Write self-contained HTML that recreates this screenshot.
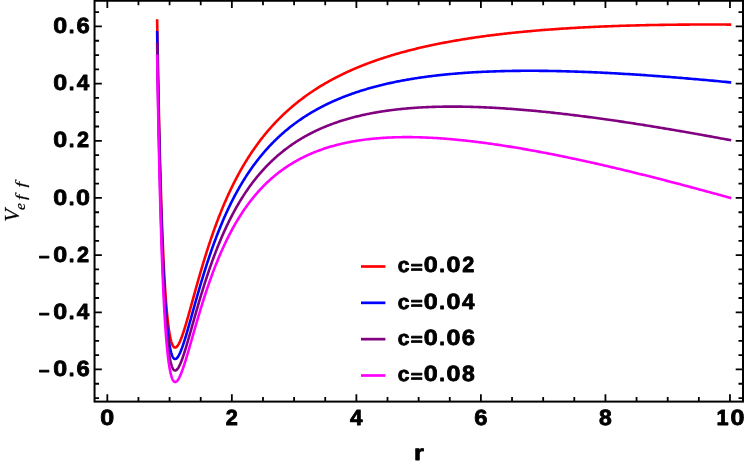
<!DOCTYPE html><html><head><meta charset="utf-8"><title>Veff plot</title><style>html,body{margin:0;padding:0;background:#fff;}body{width:747px;height:468px;overflow:hidden;font-family:"Liberation Sans",sans-serif;}</style></head><body><svg width="747" height="468" viewBox="0 0 747 468" style="display:block"><rect x="0" y="0" width="747" height="468" fill="#fff"/><defs><mask id="tm" maskUnits="userSpaceOnUse" x="0" y="0" width="747" height="468"><rect x="0" y="0" width="747" height="468" fill="#fff"/></mask></defs><path d="M157.13,19.35 L157.31,30.20 L157.49,40.78 L157.67,51.08 L157.86,61.12 L158.04,70.91 L158.22,80.43 L158.41,89.71 L158.59,98.75 L158.78,107.55 L158.96,116.11 L159.15,124.44 L159.34,132.55 L159.52,140.44 L159.71,148.11 L159.90,155.57 L160.09,162.83 L160.28,169.88 L160.47,176.73 L160.67,183.39 L160.86,189.86 L161.05,196.15 L161.25,202.25 L161.44,208.17 L161.64,213.92 L161.83,219.50 L162.03,224.91 L162.23,230.16 L162.43,235.24 L162.63,240.17 L162.83,244.95 L163.03,249.58 L163.23,254.06 L163.43,258.39 L163.63,262.59 L163.84,266.65 L164.04,270.57 L164.25,274.36 L164.45,278.03 L164.66,281.56 L164.86,284.98 L165.07,288.28 L165.28,291.45 L165.49,294.52 L165.70,297.47 L165.91,300.31 L166.12,303.04 L166.34,305.67 L166.55,308.19 L166.76,310.62 L166.98,312.95 L167.19,315.18 L167.41,317.32 L167.63,319.37 L167.85,321.32 L168.07,323.19 L168.28,324.98 L168.51,326.68 L168.73,328.31 L168.95,329.85 L169.17,331.31 L169.39,332.70 L169.62,334.02 L169.84,335.26 L170.07,336.44 L170.30,337.54 L170.52,338.58 L170.75,339.55 L170.98,340.46 L171.21,341.31 L171.44,342.09 L171.68,342.82 L171.91,343.49 L172.14,344.11 L172.38,344.66 L172.61,345.17 L172.85,345.62 L173.08,346.02 L173.32,346.38 L173.56,346.68 L173.80,346.94 L174.04,347.15 L174.28,347.31 L174.52,347.44 L174.77,347.52 L175.01,347.56 L175.25,347.56 L175.50,347.52 L175.75,347.44 L175.99,347.32 L176.24,347.17 L176.49,346.99 L176.74,346.77 L176.99,346.51 L177.24,346.23 L177.50,345.91 L177.75,345.56 L178.01,345.18 L178.26,344.78 L178.52,344.34 L178.77,343.88 L179.03,343.39 L179.29,342.88 L179.55,342.34 L179.81,341.77 L180.08,341.19 L180.34,340.58 L180.60,339.94 L180.87,339.29 L181.13,338.62 L181.40,337.92 L181.67,337.21 L181.94,336.47 L182.21,335.72 L182.48,334.95 L182.75,334.17 L183.02,333.36 L183.29,332.54 L183.57,331.71 L183.84,330.86 L184.12,329.99 L184.40,329.11 L184.68,328.22 L184.96,327.31 L185.24,326.40 L185.52,325.47 L185.80,324.52 L186.09,323.57 L186.37,322.60 L186.66,321.63 L186.94,320.64 L187.23,319.65 L187.52,318.64 L187.81,317.63 L188.10,316.60 L188.39,315.57 L188.69,314.53 L188.98,313.49 L189.27,312.43 L189.57,311.37 L189.87,310.31 L190.17,309.23 L190.47,308.15 L190.77,307.07 L191.07,305.98 L191.37,304.88 L191.68,303.78 L191.98,302.67 L192.29,301.56 L192.59,300.45 L192.90,299.33 L193.21,298.21 L193.52,297.08 L193.83,295.95 L194.15,294.82 L194.46,293.68 L194.77,292.55 L195.09,291.41 L195.41,290.26 L195.73,289.12 L196.05,287.97 L196.37,286.83 L196.69,285.68 L197.01,284.53 L197.34,283.38 L197.66,282.22 L197.99,281.07 L198.32,279.92 L198.64,278.76 L198.97,277.61 L199.31,276.45 L199.64,275.30 L199.97,274.14 L200.31,272.99 L200.64,271.83 L200.98,270.68 L201.32,269.52 L201.66,268.37 L202.00,267.22 L202.34,266.07 L202.69,264.92 L203.03,263.77 L203.38,262.62 L203.72,261.48 L204.07,260.33 L204.42,259.19 L204.77,258.05 L205.12,256.91 L205.48,255.77 L205.83,254.63 L206.19,253.50 L206.55,252.36 L206.90,251.23 L207.26,250.11 L207.63,248.98 L207.99,247.86 L208.35,246.73 L208.72,245.61 L209.08,244.50 L209.45,243.38 L209.82,242.27 L210.19,241.16 L210.56,240.06 L210.94,238.95 L211.31,237.85 L211.69,236.76 L212.06,235.66 L212.44,234.57 L212.82,233.48 L213.20,232.40 L213.59,231.31 L213.97,230.23 L214.36,229.16 L214.74,228.08 L215.13,227.01 L215.52,225.95 L215.91,224.88 L216.31,223.82 L216.70,222.77 L217.09,221.71 L217.49,220.66 L217.89,219.62 L218.29,218.57 L218.69,217.53 L219.09,216.50 L219.50,215.46 L219.90,214.43 L220.31,213.41 L220.72,212.39 L221.13,211.37 L221.54,210.35 L221.95,209.34 L222.37,208.33 L222.78,207.33 L223.20,206.33 L223.62,205.33 L224.04,204.34 L224.46,203.35 L224.88,202.36 L225.31,201.38 L225.74,200.40 L226.16,199.43 L226.59,198.46 L227.02,197.49 L227.46,196.53 L227.89,195.57 L228.33,194.61 L228.76,193.66 L229.20,192.71 L229.64,191.76 L230.09,190.82 L230.53,189.88 L230.98,188.95 L231.42,188.02 L231.87,187.09 L232.32,186.17 L232.77,185.25 L233.23,184.34 L233.68,183.43 L234.14,182.52 L234.60,181.62 L235.06,180.72 L235.52,179.82 L235.98,178.93 L236.45,178.04 L236.91,177.15 L237.38,176.27 L237.85,175.39 L238.32,174.52 L238.80,173.65 L239.27,172.78 L239.75,171.92 L240.23,171.06 L240.71,170.20 L241.19,169.35 L241.68,168.50 L242.16,167.66 L242.65,166.82 L243.14,165.98 L243.63,165.14 L244.12,164.31 L244.62,163.49 L245.11,162.66 L245.61,161.84 L246.11,161.03 L246.61,160.22 L247.12,159.41 L247.62,158.60 L248.13,157.80 L248.64,157.00 L249.15,156.21 L249.66,155.42 L250.17,154.63 L250.69,153.84 L251.21,153.06 L251.73,152.28 L252.25,151.51 L252.78,150.74 L253.30,149.97 L253.83,149.21 L254.36,148.45 L254.89,147.69 L255.42,146.94 L255.96,146.19 L256.50,145.44 L257.04,144.70 L257.58,143.96 L258.12,143.22 L258.66,142.49 L259.21,141.76 L259.76,141.03 L260.31,140.31 L260.86,139.59 L261.42,138.87 L261.98,138.16 L262.54,137.44 L263.10,136.74 L263.66,136.03 L264.23,135.33 L264.79,134.63 L265.36,133.94 L265.93,133.25 L266.51,132.56 L267.08,131.87 L267.66,131.19 L268.24,130.51 L268.82,129.84 L269.40,129.16 L269.99,128.49 L270.58,127.83 L271.17,127.16 L271.76,126.50 L272.35,125.85 L272.95,125.19 L273.55,124.54 L274.15,123.89 L274.75,123.25 L275.36,122.60 L275.97,121.96 L276.58,121.33 L277.19,120.69 L277.80,120.06 L278.42,119.43 L279.04,118.81 L279.66,118.19 L280.28,117.57 L280.91,116.95 L281.53,116.34 L282.16,115.73 L282.79,115.12 L283.43,114.51 L284.07,113.91 L284.70,113.31 L285.35,112.71 L285.99,112.12 L286.64,111.53 L287.28,110.94 L287.93,110.35 L288.59,109.77 L289.24,109.19 L289.90,108.61 L290.56,108.04 L291.22,107.47 L291.89,106.90 L292.55,106.33 L293.22,105.77 L293.90,105.20 L294.57,104.65 L295.25,104.09 L295.93,103.54 L296.61,102.98 L297.29,102.44 L297.98,101.89 L298.67,101.35 L299.36,100.81 L300.05,100.27 L300.75,99.73 L301.45,99.20 L302.15,98.67 L302.86,98.14 L303.56,97.61 L304.27,97.09 L304.98,96.57 L305.70,96.05 L306.42,95.54 L307.13,95.02 L307.86,94.51 L308.58,94.00 L309.31,93.50 L310.04,92.99 L310.77,92.49 L311.51,91.99 L312.25,91.50 L312.99,91.00 L313.73,90.51 L314.48,90.02 L315.22,89.54 L315.98,89.05 L316.73,88.57 L317.49,88.09 L318.25,87.61 L319.01,87.14 L319.77,86.66 L320.54,86.19 L321.31,85.72 L322.09,85.26 L322.86,84.79 L323.64,84.33 L324.42,83.87 L325.21,83.42 L326.00,82.96 L326.79,82.51 L327.58,82.06 L328.38,81.61 L329.18,81.16 L329.98,80.72 L330.78,80.28 L331.59,79.84 L332.40,79.40 L333.21,78.97 L334.03,78.53 L334.85,78.10 L335.67,77.67 L336.50,77.25 L337.33,76.82 L338.16,76.40 L338.99,75.98 L339.83,75.56 L340.67,75.15 L341.51,74.73 L342.36,74.32 L343.21,73.91 L344.06,73.50 L344.92,73.10 L345.78,72.69 L346.64,72.29 L347.50,71.89 L348.37,71.49 L349.24,71.10 L350.12,70.70 L351.00,70.31 L351.88,69.92 L352.76,69.54 L353.65,69.15 L354.54,68.77 L355.43,68.39 L356.33,68.01 L357.23,67.63 L358.13,67.25 L359.04,66.88 L359.95,66.51 L360.86,66.14 L361.78,65.77 L362.70,65.40 L363.62,65.04 L364.55,64.68 L365.48,64.32 L366.41,63.96 L367.35,63.60 L368.29,63.25 L369.23,62.90 L370.18,62.54 L371.13,62.20 L372.08,61.85 L373.04,61.50 L374.00,61.16 L374.96,60.82 L375.93,60.48 L376.90,60.14 L377.88,59.81 L378.85,59.47 L379.84,59.14 L380.82,58.81 L381.81,58.48 L382.80,58.15 L383.80,57.83 L384.80,57.51 L385.80,57.18 L386.81,56.87 L387.82,56.55 L388.83,56.23 L389.85,55.92 L390.87,55.61 L391.89,55.29 L392.92,54.99 L393.95,54.68 L394.99,54.37 L396.03,54.07 L397.07,53.77 L398.12,53.47 L399.17,53.17 L400.23,52.87 L401.29,52.58 L402.35,52.29 L403.42,51.99 L404.49,51.70 L405.56,51.42 L406.64,51.13 L407.72,50.85 L408.81,50.56 L409.90,50.28 L410.99,50.00 L412.09,49.72 L413.19,49.45 L414.29,49.17 L415.40,48.90 L416.52,48.63 L417.64,48.36 L418.76,48.09 L419.88,47.83 L421.01,47.56 L422.15,47.30 L423.28,47.04 L424.43,46.78 L425.57,46.52 L426.72,46.26 L427.88,46.01 L429.04,45.76 L430.20,45.51 L431.37,45.26 L432.54,45.01 L433.71,44.76 L434.89,44.52 L436.08,44.27 L437.27,44.03 L438.46,43.79 L439.66,43.55 L440.86,43.32 L442.06,43.08 L443.27,42.85 L444.49,42.62 L445.71,42.39 L446.93,42.16 L448.16,41.93 L449.39,41.70 L450.62,41.48 L451.87,41.26 L453.11,41.04 L454.36,40.82 L455.62,40.60 L456.87,40.38 L458.14,40.17 L459.41,39.96 L460.68,39.74 L461.96,39.53 L463.24,39.33 L464.52,39.12 L465.82,38.91 L467.11,38.71 L468.41,38.51 L469.72,38.31 L471.03,38.11 L472.34,37.91 L473.66,37.71 L474.99,37.52 L476.31,37.33 L477.65,37.13 L478.99,36.94 L480.33,36.75 L481.68,36.57 L483.03,36.38 L484.39,36.20 L485.75,36.02 L487.12,35.83 L488.49,35.65 L489.87,35.48 L491.25,35.30 L492.64,35.13 L494.04,34.95 L495.43,34.78 L496.84,34.61 L498.24,34.44 L499.66,34.27 L501.08,34.11 L502.50,33.94 L503.93,33.78 L505.36,33.62 L506.80,33.46 L508.24,33.30 L509.69,33.14 L511.15,32.98 L512.61,32.83 L514.07,32.68 L515.54,32.53 L517.02,32.38 L518.50,32.23 L519.98,32.08 L521.48,31.93 L522.97,31.79 L524.48,31.65 L525.98,31.51 L527.50,31.37 L529.02,31.23 L530.54,31.09 L532.07,30.96 L533.61,30.82 L535.15,30.69 L536.69,30.56 L538.24,30.43 L539.80,30.30 L541.37,30.17 L542.93,30.05 L544.51,29.92 L546.09,29.80 L547.68,29.68 L549.27,29.56 L550.86,29.44 L552.47,29.33 L554.08,29.21 L555.69,29.10 L557.31,28.98 L558.94,28.87 L560.57,28.76 L562.21,28.65 L563.85,28.55 L565.50,28.44 L567.16,28.34 L568.82,28.24 L570.49,28.13 L572.17,28.03 L573.85,27.94 L575.53,27.84 L577.22,27.74 L578.92,27.65 L580.63,27.56 L582.34,27.47 L584.06,27.38 L585.78,27.29 L587.51,27.20 L589.24,27.12 L590.99,27.03 L592.73,26.95 L594.49,26.87 L596.25,26.79 L598.02,26.71 L599.79,26.63 L601.57,26.55 L603.36,26.48 L605.15,26.41 L606.95,26.34 L608.76,26.27 L610.57,26.20 L612.39,26.13 L614.21,26.06 L616.05,26.00 L617.89,25.94 L619.73,25.87 L621.58,25.81 L623.44,25.75 L625.31,25.70 L627.18,25.64 L629.06,25.59 L630.94,25.53 L632.84,25.48 L634.74,25.43 L636.64,25.38 L638.56,25.33 L640.48,25.28 L642.40,25.24 L644.34,25.20 L646.28,25.15 L648.23,25.11 L650.18,25.07 L652.15,25.03 L654.11,25.00 L656.09,24.96 L658.08,24.93 L660.07,24.90 L662.06,24.86 L664.07,24.84 L666.08,24.81 L668.10,24.78 L670.13,24.75 L672.16,24.73 L674.20,24.71 L676.25,24.69 L678.31,24.66 L680.37,24.65 L682.45,24.63 L684.52,24.61 L686.61,24.60 L688.70,24.59 L690.81,24.57 L692.92,24.56 L695.03,24.55 L697.16,24.55 L699.29,24.54 L701.43,24.54 L703.58,24.53 L705.73,24.53 L707.89,24.53 L710.07,24.53 L712.24,24.53 L714.43,24.54 L716.63,24.54 L718.83,24.55 L721.04,24.55 L723.26,24.56 L725.48,24.57 L727.72,24.59 L729.96,24.60 L731.26,24.61" fill="none" stroke="#ff0000" stroke-width="2.6" stroke-linejoin="round" stroke-linecap="butt"/><path d="M157.13,31.07 L157.31,41.91 L157.49,52.48 L157.67,62.77 L157.86,72.81 L158.04,82.58 L158.22,92.10 L158.41,101.37 L158.59,110.40 L158.78,119.19 L158.96,127.74 L159.15,136.07 L159.34,144.17 L159.52,152.05 L159.71,159.71 L159.90,167.17 L160.09,174.42 L160.28,181.46 L160.47,188.31 L160.67,194.96 L160.86,201.43 L161.05,207.70 L161.25,213.80 L161.44,219.72 L161.64,225.46 L161.83,231.03 L162.03,236.44 L162.23,241.68 L162.43,246.76 L162.63,251.69 L162.83,256.46 L163.03,261.08 L163.23,265.56 L163.43,269.89 L163.63,274.08 L163.84,278.13 L164.04,282.05 L164.25,285.84 L164.45,289.50 L164.66,293.04 L164.86,296.45 L165.07,299.74 L165.28,302.92 L165.49,305.97 L165.70,308.92 L165.91,311.76 L166.12,314.49 L166.34,317.12 L166.55,319.64 L166.76,322.06 L166.98,324.39 L167.19,326.62 L167.41,328.76 L167.63,330.80 L167.85,332.76 L168.07,334.63 L168.28,336.42 L168.51,338.12 L168.73,339.74 L168.95,341.28 L169.17,342.75 L169.39,344.14 L169.62,345.45 L169.84,346.70 L170.07,347.87 L170.30,348.98 L170.52,350.01 L170.75,350.99 L170.98,351.90 L171.21,352.75 L171.44,353.53 L171.68,354.26 L171.91,354.93 L172.14,355.55 L172.38,356.11 L172.61,356.61 L172.85,357.07 L173.08,357.47 L173.32,357.83 L173.56,358.14 L173.80,358.39 L174.04,358.61 L174.28,358.78 L174.52,358.90 L174.77,358.99 L175.01,359.03 L175.25,359.03 L175.50,359.00 L175.75,358.92 L175.99,358.81 L176.24,358.67 L176.49,358.48 L176.74,358.27 L176.99,358.02 L177.24,357.74 L177.50,357.42 L177.75,357.08 L178.01,356.71 L178.26,356.31 L178.52,355.88 L178.77,355.42 L179.03,354.94 L179.29,354.43 L179.55,353.90 L179.81,353.34 L180.08,352.76 L180.34,352.16 L180.60,351.53 L180.87,350.88 L181.13,350.22 L181.40,349.53 L181.67,348.82 L181.94,348.10 L182.21,347.35 L182.48,346.59 L182.75,345.81 L183.02,345.01 L183.29,344.20 L183.57,343.38 L183.84,342.53 L184.12,341.68 L184.40,340.81 L184.68,339.92 L184.96,339.03 L185.24,338.12 L185.52,337.20 L185.80,336.26 L186.09,335.32 L186.37,334.36 L186.66,333.40 L186.94,332.42 L187.23,331.44 L187.52,330.44 L187.81,329.44 L188.10,328.43 L188.39,327.41 L188.69,326.38 L188.98,325.34 L189.27,324.30 L189.57,323.25 L189.87,322.20 L190.17,321.13 L190.47,320.07 L190.77,318.99 L191.07,317.91 L191.37,316.83 L191.68,315.74 L191.98,314.65 L192.29,313.55 L192.59,312.45 L192.90,311.34 L193.21,310.24 L193.52,309.12 L193.83,308.01 L194.15,306.89 L194.46,305.77 L194.77,304.65 L195.09,303.52 L195.41,302.39 L195.73,301.26 L196.05,300.13 L196.37,299.00 L196.69,297.86 L197.01,296.73 L197.34,295.59 L197.66,294.46 L197.99,293.32 L198.32,292.18 L198.64,291.04 L198.97,289.90 L199.31,288.77 L199.64,287.63 L199.97,286.49 L200.31,285.35 L200.64,284.21 L200.98,283.08 L201.32,281.94 L201.66,280.81 L202.00,279.67 L202.34,278.54 L202.69,277.41 L203.03,276.28 L203.38,275.15 L203.72,274.02 L204.07,272.89 L204.42,271.77 L204.77,270.65 L205.12,269.52 L205.48,268.41 L205.83,267.29 L206.19,266.17 L206.55,265.06 L206.90,263.95 L207.26,262.84 L207.63,261.74 L207.99,260.63 L208.35,259.53 L208.72,258.43 L209.08,257.34 L209.45,256.25 L209.82,255.16 L210.19,254.07 L210.56,252.98 L210.94,251.90 L211.31,250.82 L211.69,249.75 L212.06,248.68 L212.44,247.61 L212.82,246.54 L213.20,245.48 L213.59,244.42 L213.97,243.36 L214.36,242.31 L214.74,241.26 L215.13,240.21 L215.52,239.17 L215.91,238.13 L216.31,237.10 L216.70,236.06 L217.09,235.03 L217.49,234.01 L217.89,232.99 L218.29,231.97 L218.69,230.95 L219.09,229.94 L219.50,228.94 L219.90,227.93 L220.31,226.93 L220.72,225.94 L221.13,224.94 L221.54,223.96 L221.95,222.97 L222.37,221.99 L222.78,221.01 L223.20,220.04 L223.62,219.07 L224.04,218.10 L224.46,217.14 L224.88,216.18 L225.31,215.23 L225.74,214.28 L226.16,213.33 L226.59,212.39 L227.02,211.45 L227.46,210.52 L227.89,209.59 L228.33,208.66 L228.76,207.74 L229.20,206.82 L229.64,205.90 L230.09,204.99 L230.53,204.09 L230.98,203.18 L231.42,202.28 L231.87,201.39 L232.32,200.50 L232.77,199.61 L233.23,198.73 L233.68,197.85 L234.14,196.97 L234.60,196.10 L235.06,195.23 L235.52,194.37 L235.98,193.51 L236.45,192.65 L236.91,191.80 L237.38,190.95 L237.85,190.10 L238.32,189.26 L238.80,188.43 L239.27,187.59 L239.75,186.76 L240.23,185.94 L240.71,185.12 L241.19,184.30 L241.68,183.49 L242.16,182.68 L242.65,181.87 L243.14,181.07 L243.63,180.27 L244.12,179.48 L244.62,178.69 L245.11,177.90 L245.61,177.12 L246.11,176.34 L246.61,175.56 L247.12,174.79 L247.62,174.02 L248.13,173.26 L248.64,172.49 L249.15,171.74 L249.66,170.98 L250.17,170.23 L250.69,169.49 L251.21,168.75 L251.73,168.01 L252.25,167.27 L252.78,166.54 L253.30,165.81 L253.83,165.09 L254.36,164.37 L254.89,163.65 L255.42,162.94 L255.96,162.23 L256.50,161.52 L257.04,160.82 L257.58,160.12 L258.12,159.43 L258.66,158.73 L259.21,158.05 L259.76,157.36 L260.31,156.68 L260.86,156.00 L261.42,155.33 L261.98,154.66 L262.54,153.99 L263.10,153.32 L263.66,152.66 L264.23,152.01 L264.79,151.35 L265.36,150.70 L265.93,150.05 L266.51,149.41 L267.08,148.77 L267.66,148.13 L268.24,147.50 L268.82,146.87 L269.40,146.24 L269.99,145.62 L270.58,145.00 L271.17,144.38 L271.76,143.77 L272.35,143.15 L272.95,142.55 L273.55,141.94 L274.15,141.34 L274.75,140.74 L275.36,140.15 L275.97,139.56 L276.58,138.97 L277.19,138.38 L277.80,137.80 L278.42,137.22 L279.04,136.65 L279.66,136.07 L280.28,135.50 L280.91,134.94 L281.53,134.37 L282.16,133.81 L282.79,133.26 L283.43,132.70 L284.07,132.15 L284.70,131.60 L285.35,131.06 L285.99,130.52 L286.64,129.98 L287.28,129.44 L287.93,128.91 L288.59,128.38 L289.24,127.85 L289.90,127.33 L290.56,126.81 L291.22,126.29 L291.89,125.77 L292.55,125.26 L293.22,124.75 L293.90,124.24 L294.57,123.74 L295.25,123.24 L295.93,122.74 L296.61,122.24 L297.29,121.75 L297.98,121.26 L298.67,120.78 L299.36,120.29 L300.05,119.81 L300.75,119.33 L301.45,118.86 L302.15,118.38 L302.86,117.91 L303.56,117.45 L304.27,116.98 L304.98,116.52 L305.70,116.06 L306.42,115.60 L307.13,115.15 L307.86,114.70 L308.58,114.25 L309.31,113.81 L310.04,113.36 L310.77,112.92 L311.51,112.48 L312.25,112.05 L312.99,111.62 L313.73,111.19 L314.48,110.76 L315.22,110.34 L315.98,109.91 L316.73,109.50 L317.49,109.08 L318.25,108.67 L319.01,108.25 L319.77,107.85 L320.54,107.44 L321.31,107.04 L322.09,106.63 L322.86,106.24 L323.64,105.84 L324.42,105.45 L325.21,105.05 L326.00,104.67 L326.79,104.28 L327.58,103.90 L328.38,103.52 L329.18,103.14 L329.98,102.76 L330.78,102.39 L331.59,102.02 L332.40,101.65 L333.21,101.28 L334.03,100.92 L334.85,100.56 L335.67,100.20 L336.50,99.84 L337.33,99.49 L338.16,99.14 L338.99,98.79 L339.83,98.44 L340.67,98.10 L341.51,97.75 L342.36,97.41 L343.21,97.08 L344.06,96.74 L344.92,96.41 L345.78,96.08 L346.64,95.75 L347.50,95.42 L348.37,95.10 L349.24,94.78 L350.12,94.46 L351.00,94.15 L351.88,93.83 L352.76,93.52 L353.65,93.21 L354.54,92.90 L355.43,92.60 L356.33,92.30 L357.23,92.00 L358.13,91.70 L359.04,91.40 L359.95,91.11 L360.86,90.82 L361.78,90.53 L362.70,90.24 L363.62,89.96 L364.55,89.68 L365.48,89.40 L366.41,89.12 L367.35,88.84 L368.29,88.57 L369.23,88.30 L370.18,88.03 L371.13,87.77 L372.08,87.50 L373.04,87.24 L374.00,86.98 L374.96,86.72 L375.93,86.47 L376.90,86.21 L377.88,85.96 L378.85,85.71 L379.84,85.47 L380.82,85.22 L381.81,84.98 L382.80,84.74 L383.80,84.50 L384.80,84.26 L385.80,84.03 L386.81,83.80 L387.82,83.57 L388.83,83.34 L389.85,83.12 L390.87,82.89 L391.89,82.67 L392.92,82.45 L393.95,82.24 L394.99,82.02 L396.03,81.81 L397.07,81.60 L398.12,81.39 L399.17,81.18 L400.23,80.98 L401.29,80.78 L402.35,80.58 L403.42,80.38 L404.49,80.19 L405.56,79.99 L406.64,79.80 L407.72,79.61 L408.81,79.42 L409.90,79.24 L410.99,79.05 L412.09,78.87 L413.19,78.69 L414.29,78.52 L415.40,78.34 L416.52,78.17 L417.64,78.00 L418.76,77.83 L419.88,77.66 L421.01,77.50 L422.15,77.33 L423.28,77.17 L424.43,77.02 L425.57,76.86 L426.72,76.70 L427.88,76.55 L429.04,76.40 L430.20,76.25 L431.37,76.11 L432.54,75.96 L433.71,75.82 L434.89,75.68 L436.08,75.54 L437.27,75.40 L438.46,75.27 L439.66,75.14 L440.86,75.01 L442.06,74.88 L443.27,74.75 L444.49,74.63 L445.71,74.51 L446.93,74.39 L448.16,74.27 L449.39,74.15 L450.62,74.04 L451.87,73.92 L453.11,73.81 L454.36,73.71 L455.62,73.60 L456.87,73.50 L458.14,73.39 L459.41,73.29 L460.68,73.19 L461.96,73.10 L463.24,73.00 L464.52,72.91 L465.82,72.82 L467.11,72.73 L468.41,72.65 L469.72,72.56 L471.03,72.48 L472.34,72.40 L473.66,72.32 L474.99,72.24 L476.31,72.17 L477.65,72.10 L478.99,72.02 L480.33,71.96 L481.68,71.89 L483.03,71.82 L484.39,71.76 L485.75,71.70 L487.12,71.64 L488.49,71.58 L489.87,71.53 L491.25,71.48 L492.64,71.43 L494.04,71.38 L495.43,71.33 L496.84,71.28 L498.24,71.24 L499.66,71.20 L501.08,71.16 L502.50,71.12 L503.93,71.09 L505.36,71.06 L506.80,71.02 L508.24,70.99 L509.69,70.97 L511.15,70.94 L512.61,70.92 L514.07,70.90 L515.54,70.88 L517.02,70.86 L518.50,70.84 L519.98,70.83 L521.48,70.82 L522.97,70.81 L524.48,70.80 L525.98,70.79 L527.50,70.79 L529.02,70.79 L530.54,70.79 L532.07,70.79 L533.61,70.79 L535.15,70.80 L536.69,70.81 L538.24,70.82 L539.80,70.83 L541.37,70.84 L542.93,70.86 L544.51,70.88 L546.09,70.90 L547.68,70.92 L549.27,70.94 L550.86,70.97 L552.47,71.00 L554.08,71.02 L555.69,71.06 L557.31,71.09 L558.94,71.12 L560.57,71.16 L562.21,71.20 L563.85,71.24 L565.50,71.29 L567.16,71.33 L568.82,71.38 L570.49,71.43 L572.17,71.48 L573.85,71.53 L575.53,71.59 L577.22,71.64 L578.92,71.70 L580.63,71.76 L582.34,71.83 L584.06,71.89 L585.78,71.96 L587.51,72.03 L589.24,72.10 L590.99,72.17 L592.73,72.25 L594.49,72.33 L596.25,72.40 L598.02,72.49 L599.79,72.57 L601.57,72.65 L603.36,72.74 L605.15,72.83 L606.95,72.92 L608.76,73.01 L610.57,73.11 L612.39,73.21 L614.21,73.30 L616.05,73.41 L617.89,73.51 L619.73,73.61 L621.58,73.72 L623.44,73.83 L625.31,73.94 L627.18,74.05 L629.06,74.17 L630.94,74.29 L632.84,74.41 L634.74,74.53 L636.64,74.65 L638.56,74.78 L640.48,74.90 L642.40,75.03 L644.34,75.16 L646.28,75.30 L648.23,75.43 L650.18,75.57 L652.15,75.71 L654.11,75.85 L656.09,76.00 L658.08,76.14 L660.07,76.29 L662.06,76.44 L664.07,76.59 L666.08,76.74 L668.10,76.90 L670.13,77.06 L672.16,77.22 L674.20,77.38 L676.25,77.55 L678.31,77.71 L680.37,77.88 L682.45,78.05 L684.52,78.22 L686.61,78.40 L688.70,78.58 L690.81,78.75 L692.92,78.94 L695.03,79.12 L697.16,79.30 L699.29,79.49 L701.43,79.68 L703.58,79.87 L705.73,80.07 L707.89,80.26 L710.07,80.46 L712.24,80.66 L714.43,80.86 L716.63,81.07 L718.83,81.27 L721.04,81.48 L723.26,81.69 L725.48,81.90 L727.72,82.12 L729.96,82.34 L731.25,82.46" fill="none" stroke="#0000ff" stroke-width="2.6" stroke-linejoin="round" stroke-linecap="butt"/><path d="M157.13,42.79 L157.31,53.62 L157.49,64.18 L157.67,74.47 L157.86,84.49 L158.04,94.26 L158.22,103.77 L158.41,113.03 L158.59,122.05 L158.78,130.83 L158.96,139.38 L159.15,147.69 L159.34,155.79 L159.52,163.66 L159.71,171.32 L159.90,178.77 L160.09,186.01 L160.28,193.05 L160.47,199.89 L160.67,206.53 L160.86,212.99 L161.05,219.26 L161.25,225.35 L161.44,231.26 L161.64,237.00 L161.83,242.57 L162.03,247.97 L162.23,253.20 L162.43,258.28 L162.63,263.20 L162.83,267.97 L163.03,272.58 L163.23,277.05 L163.43,281.38 L163.63,285.57 L163.84,289.62 L164.04,293.54 L164.25,297.32 L164.45,300.98 L164.66,304.51 L164.86,307.92 L165.07,311.21 L165.28,314.38 L165.49,317.43 L165.70,320.38 L165.91,323.21 L166.12,325.94 L166.34,328.57 L166.55,331.09 L166.76,333.51 L166.98,335.83 L167.19,338.06 L167.41,340.20 L167.63,342.24 L167.85,344.20 L168.07,346.07 L168.28,347.85 L168.51,349.55 L168.73,351.17 L168.95,352.72 L169.17,354.18 L169.39,355.57 L169.62,356.88 L169.84,358.13 L170.07,359.30 L170.30,360.41 L170.52,361.45 L170.75,362.42 L170.98,363.33 L171.21,364.18 L171.44,364.97 L171.68,365.70 L171.91,366.37 L172.14,366.99 L172.38,367.55 L172.61,368.06 L172.85,368.52 L173.08,368.92 L173.32,369.28 L173.56,369.59 L173.80,369.85 L174.04,370.07 L174.28,370.24 L174.52,370.37 L174.77,370.46 L175.01,370.50 L175.25,370.51 L175.50,370.48 L175.75,370.41 L175.99,370.30 L176.24,370.16 L176.49,369.98 L176.74,369.77 L176.99,369.52 L177.24,369.25 L177.50,368.94 L177.75,368.60 L178.01,368.23 L178.26,367.84 L178.52,367.41 L178.77,366.96 L179.03,366.49 L179.29,365.98 L179.55,365.46 L179.81,364.91 L180.08,364.33 L180.34,363.73 L180.60,363.12 L180.87,362.48 L181.13,361.81 L181.40,361.13 L181.67,360.43 L181.94,359.72 L182.21,358.98 L182.48,358.23 L182.75,357.45 L183.02,356.67 L183.29,355.86 L183.57,355.05 L183.84,354.21 L184.12,353.36 L184.40,352.50 L184.68,351.63 L184.96,350.74 L185.24,349.84 L185.52,348.93 L185.80,348.00 L186.09,347.07 L186.37,346.12 L186.66,345.17 L186.94,344.20 L187.23,343.23 L187.52,342.24 L187.81,341.25 L188.10,340.25 L188.39,339.24 L188.69,338.22 L188.98,337.20 L189.27,336.17 L189.57,335.13 L189.87,334.09 L190.17,333.04 L190.47,331.98 L190.77,330.92 L191.07,329.85 L191.37,328.78 L191.68,327.71 L191.98,326.63 L192.29,325.54 L192.59,324.45 L192.90,323.36 L193.21,322.27 L193.52,321.17 L193.83,320.06 L194.15,318.96 L194.46,317.85 L194.77,316.74 L195.09,315.63 L195.41,314.52 L195.73,313.41 L196.05,312.29 L196.37,311.17 L196.69,310.05 L197.01,308.93 L197.34,307.81 L197.66,306.69 L197.99,305.57 L198.32,304.45 L198.64,303.33 L198.97,302.20 L199.31,301.08 L199.64,299.96 L199.97,298.84 L200.31,297.72 L200.64,296.60 L200.98,295.48 L201.32,294.36 L201.66,293.24 L202.00,292.12 L202.34,291.01 L202.69,289.90 L203.03,288.78 L203.38,287.67 L203.72,286.56 L204.07,285.45 L204.42,284.35 L204.77,283.25 L205.12,282.14 L205.48,281.04 L205.83,279.95 L206.19,278.85 L206.55,277.76 L206.90,276.67 L207.26,275.58 L207.63,274.49 L207.99,273.41 L208.35,272.33 L208.72,271.25 L209.08,270.18 L209.45,269.11 L209.82,268.04 L210.19,266.97 L210.56,265.91 L210.94,264.85 L211.31,263.80 L211.69,262.74 L212.06,261.69 L212.44,260.65 L212.82,259.60 L213.20,258.56 L213.59,257.53 L213.97,256.49 L214.36,255.46 L214.74,254.44 L215.13,253.41 L215.52,252.39 L215.91,251.38 L216.31,250.37 L216.70,249.36 L217.09,248.36 L217.49,247.35 L217.89,246.36 L218.29,245.36 L218.69,244.38 L219.09,243.39 L219.50,242.41 L219.90,241.43 L220.31,240.46 L220.72,239.49 L221.13,238.52 L221.54,237.56 L221.95,236.60 L222.37,235.65 L222.78,234.70 L223.20,233.75 L223.62,232.81 L224.04,231.87 L224.46,230.94 L224.88,230.01 L225.31,229.08 L225.74,228.16 L226.16,227.24 L226.59,226.33 L227.02,225.42 L227.46,224.51 L227.89,223.61 L228.33,222.71 L228.76,221.82 L229.20,220.93 L229.64,220.04 L230.09,219.16 L230.53,218.29 L230.98,217.41 L231.42,216.55 L231.87,215.68 L232.32,214.82 L232.77,213.96 L233.23,213.11 L233.68,212.26 L234.14,211.42 L234.60,210.58 L235.06,209.74 L235.52,208.91 L235.98,208.08 L236.45,207.26 L236.91,206.44 L237.38,205.63 L237.85,204.82 L238.32,204.01 L238.80,203.21 L239.27,202.41 L239.75,201.61 L240.23,200.82 L240.71,200.03 L241.19,199.25 L241.68,198.47 L242.16,197.70 L242.65,196.93 L243.14,196.16 L243.63,195.40 L244.12,194.64 L244.62,193.88 L245.11,193.13 L245.61,192.39 L246.11,191.64 L246.61,190.90 L247.12,190.17 L247.62,189.44 L248.13,188.71 L248.64,187.99 L249.15,187.27 L249.66,186.55 L250.17,185.84 L250.69,185.13 L251.21,184.43 L251.73,183.73 L252.25,183.04 L252.78,182.34 L253.30,181.66 L253.83,180.97 L254.36,180.29 L254.89,179.61 L255.42,178.94 L255.96,178.27 L256.50,177.61 L257.04,176.94 L257.58,176.29 L258.12,175.63 L258.66,174.98 L259.21,174.33 L259.76,173.69 L260.31,173.05 L260.86,172.42 L261.42,171.79 L261.98,171.16 L262.54,170.53 L263.10,169.91 L263.66,169.29 L264.23,168.68 L264.79,168.07 L265.36,167.46 L265.93,166.86 L266.51,166.26 L267.08,165.67 L267.66,165.07 L268.24,164.49 L268.82,163.90 L269.40,163.32 L269.99,162.74 L270.58,162.17 L271.17,161.59 L271.76,161.03 L272.35,160.46 L272.95,159.90 L273.55,159.35 L274.15,158.79 L274.75,158.24 L275.36,157.69 L275.97,157.15 L276.58,156.61 L277.19,156.07 L277.80,155.54 L278.42,155.01 L279.04,154.49 L279.66,153.96 L280.28,153.44 L280.91,152.93 L281.53,152.41 L282.16,151.90 L282.79,151.40 L283.43,150.89 L284.07,150.39 L284.70,149.90 L285.35,149.40 L285.99,148.91 L286.64,148.43 L287.28,147.94 L287.93,147.46 L288.59,146.98 L289.24,146.51 L289.90,146.04 L290.56,145.57 L291.22,145.11 L291.89,144.65 L292.55,144.19 L293.22,143.73 L293.90,143.28 L294.57,142.83 L295.25,142.39 L295.93,141.94 L296.61,141.50 L297.29,141.07 L297.98,140.63 L298.67,140.20 L299.36,139.78 L300.05,139.35 L300.75,138.93 L301.45,138.51 L302.15,138.10 L302.86,137.69 L303.56,137.28 L304.27,136.87 L304.98,136.47 L305.70,136.07 L306.42,135.67 L307.13,135.28 L307.86,134.89 L308.58,134.50 L309.31,134.11 L310.04,133.73 L310.77,133.35 L311.51,132.97 L312.25,132.60 L312.99,132.23 L313.73,131.86 L314.48,131.50 L315.22,131.14 L315.98,130.78 L316.73,130.42 L317.49,130.07 L318.25,129.72 L319.01,129.37 L319.77,129.03 L320.54,128.68 L321.31,128.35 L322.09,128.01 L322.86,127.68 L323.64,127.35 L324.42,127.02 L325.21,126.69 L326.00,126.37 L326.79,126.05 L327.58,125.74 L328.38,125.42 L329.18,125.11 L329.98,124.80 L330.78,124.50 L331.59,124.19 L332.40,123.89 L333.21,123.60 L334.03,123.30 L334.85,123.01 L335.67,122.72 L336.50,122.44 L337.33,122.15 L338.16,121.87 L338.99,121.59 L339.83,121.32 L340.67,121.04 L341.51,120.77 L342.36,120.51 L343.21,120.24 L344.06,119.98 L344.92,119.72 L345.78,119.46 L346.64,119.21 L347.50,118.96 L348.37,118.71 L349.24,118.46 L350.12,118.22 L351.00,117.98 L351.88,117.74 L352.76,117.51 L353.65,117.27 L354.54,117.04 L355.43,116.81 L356.33,116.59 L357.23,116.37 L358.13,116.15 L359.04,115.93 L359.95,115.71 L360.86,115.50 L361.78,115.29 L362.70,115.08 L363.62,114.88 L364.55,114.68 L365.48,114.48 L366.41,114.28 L367.35,114.09 L368.29,113.90 L369.23,113.71 L370.18,113.52 L371.13,113.34 L372.08,113.15 L373.04,112.98 L374.00,112.80 L374.96,112.62 L375.93,112.45 L376.90,112.28 L377.88,112.12 L378.85,111.95 L379.84,111.79 L380.82,111.63 L381.81,111.48 L382.80,111.32 L383.80,111.17 L384.80,111.02 L385.80,110.88 L386.81,110.73 L387.82,110.59 L388.83,110.45 L389.85,110.32 L390.87,110.18 L391.89,110.05 L392.92,109.92 L393.95,109.80 L394.99,109.67 L396.03,109.55 L397.07,109.43 L398.12,109.31 L399.17,109.20 L400.23,109.09 L401.29,108.98 L402.35,108.87 L403.42,108.77 L404.49,108.67 L405.56,108.57 L406.64,108.47 L407.72,108.38 L408.81,108.28 L409.90,108.19 L410.99,108.11 L412.09,108.02 L413.19,107.94 L414.29,107.86 L415.40,107.78 L416.52,107.71 L417.64,107.64 L418.76,107.57 L419.88,107.50 L421.01,107.43 L422.15,107.37 L423.28,107.31 L424.43,107.25 L425.57,107.20 L426.72,107.14 L427.88,107.09 L429.04,107.04 L430.20,107.00 L431.37,106.96 L432.54,106.92 L433.71,106.88 L434.89,106.84 L436.08,106.81 L437.27,106.78 L438.46,106.75 L439.66,106.72 L440.86,106.70 L442.06,106.68 L443.27,106.66 L444.49,106.64 L445.71,106.63 L446.93,106.61 L448.16,106.60 L449.39,106.60 L450.62,106.59 L451.87,106.59 L453.11,106.59 L454.36,106.59 L455.62,106.60 L456.87,106.61 L458.14,106.62 L459.41,106.63 L460.68,106.64 L461.96,106.66 L463.24,106.68 L464.52,106.70 L465.82,106.73 L467.11,106.75 L468.41,106.78 L469.72,106.82 L471.03,106.85 L472.34,106.89 L473.66,106.93 L474.99,106.97 L476.31,107.01 L477.65,107.06 L478.99,107.11 L480.33,107.16 L481.68,107.21 L483.03,107.27 L484.39,107.33 L485.75,107.39 L487.12,107.45 L488.49,107.52 L489.87,107.58 L491.25,107.65 L492.64,107.73 L494.04,107.80 L495.43,107.88 L496.84,107.96 L498.24,108.04 L499.66,108.13 L501.08,108.22 L502.50,108.31 L503.93,108.40 L505.36,108.49 L506.80,108.59 L508.24,108.69 L509.69,108.79 L511.15,108.90 L512.61,109.01 L514.07,109.12 L515.54,109.23 L517.02,109.34 L518.50,109.46 L519.98,109.58 L521.48,109.70 L522.97,109.83 L524.48,109.95 L525.98,110.08 L527.50,110.22 L529.02,110.35 L530.54,110.49 L532.07,110.63 L533.61,110.77 L535.15,110.91 L536.69,111.06 L538.24,111.21 L539.80,111.36 L541.37,111.51 L542.93,111.67 L544.51,111.83 L546.09,111.99 L547.68,112.16 L549.27,112.32 L550.86,112.49 L552.47,112.66 L554.08,112.84 L555.69,113.02 L557.31,113.20 L558.94,113.38 L560.57,113.56 L562.21,113.75 L563.85,113.94 L565.50,114.13 L567.16,114.32 L568.82,114.52 L570.49,114.72 L572.17,114.92 L573.85,115.13 L575.53,115.34 L577.22,115.55 L578.92,115.76 L580.63,115.97 L582.34,116.19 L584.06,116.41 L585.78,116.63 L587.51,116.86 L589.24,117.09 L590.99,117.32 L592.73,117.55 L594.49,117.78 L596.25,118.02 L598.02,118.26 L599.79,118.51 L601.57,118.75 L603.36,119.00 L605.15,119.25 L606.95,119.50 L608.76,119.76 L610.57,120.02 L612.39,120.28 L614.21,120.55 L616.05,120.81 L617.89,121.08 L619.73,121.35 L621.58,121.63 L623.44,121.91 L625.31,122.19 L627.18,122.47 L629.06,122.75 L630.94,123.04 L632.84,123.33 L634.74,123.63 L636.64,123.92 L638.56,124.22 L640.48,124.52 L642.40,124.82 L644.34,125.13 L646.28,125.44 L648.23,125.75 L650.18,126.07 L652.15,126.38 L654.11,126.71 L656.09,127.03 L658.08,127.35 L660.07,127.68 L662.06,128.01 L664.07,128.35 L666.08,128.68 L668.10,129.02 L670.13,129.36 L672.16,129.71 L674.20,130.06 L676.25,130.41 L678.31,130.76 L680.37,131.12 L682.45,131.47 L684.52,131.84 L686.61,132.20 L688.70,132.57 L690.81,132.94 L692.92,133.31 L695.03,133.68 L697.16,134.06 L699.29,134.44 L701.43,134.83 L703.58,135.21 L705.73,135.60 L707.89,135.99 L710.07,136.39 L712.24,136.79 L714.43,137.19 L716.63,137.59 L718.83,138.00 L721.04,138.41 L723.26,138.82 L725.48,139.24 L727.72,139.65 L729.96,140.07 L731.24,140.31" fill="none" stroke="#800080" stroke-width="2.6" stroke-linejoin="round" stroke-linecap="butt"/><path d="M157.13,54.51 L157.31,65.33 L157.49,75.88 L157.67,86.16 L157.86,96.17 L158.04,105.93 L158.22,115.43 L158.41,124.69 L158.59,133.70 L158.78,142.47 L158.96,151.01 L159.15,159.32 L159.34,167.41 L159.52,175.27 L159.71,182.92 L159.90,190.36 L160.09,197.60 L160.28,204.63 L160.47,211.46 L160.67,218.10 L160.86,224.55 L161.05,230.82 L161.25,236.90 L161.44,242.81 L161.64,248.54 L161.83,254.10 L162.03,259.50 L162.23,264.73 L162.43,269.80 L162.63,274.71 L162.83,279.48 L163.03,284.09 L163.23,288.55 L163.43,292.88 L163.63,297.06 L163.84,301.11 L164.04,305.02 L164.25,308.80 L164.45,312.45 L164.66,315.98 L164.86,319.39 L165.07,322.67 L165.28,325.84 L165.49,328.89 L165.70,331.84 L165.91,334.67 L166.12,337.40 L166.34,340.02 L166.55,342.54 L166.76,344.96 L166.98,347.28 L167.19,349.50 L167.41,351.64 L167.63,353.68 L167.85,355.64 L168.07,357.50 L168.28,359.29 L168.51,360.99 L168.73,362.61 L168.95,364.15 L169.17,365.61 L169.39,367.00 L169.62,368.32 L169.84,369.56 L170.07,370.74 L170.30,371.84 L170.52,372.88 L170.75,373.86 L170.98,374.77 L171.21,375.62 L171.44,376.41 L171.68,377.14 L171.91,377.81 L172.14,378.43 L172.38,379.00 L172.61,379.51 L172.85,379.97 L173.08,380.37 L173.32,380.73 L173.56,381.05 L173.80,381.31 L174.04,381.53 L174.28,381.71 L174.52,381.84 L174.77,381.93 L175.01,381.98 L175.25,381.99 L175.50,381.96 L175.75,381.89 L175.99,381.79 L176.24,381.65 L176.49,381.48 L176.74,381.27 L176.99,381.03 L177.24,380.76 L177.50,380.45 L177.75,380.12 L178.01,379.76 L178.26,379.37 L178.52,378.95 L178.77,378.50 L179.03,378.03 L179.29,377.54 L179.55,377.02 L179.81,376.47 L180.08,375.90 L180.34,375.31 L180.60,374.70 L180.87,374.07 L181.13,373.41 L181.40,372.74 L181.67,372.05 L181.94,371.34 L182.21,370.61 L182.48,369.86 L182.75,369.10 L183.02,368.32 L183.29,367.52 L183.57,366.71 L183.84,365.89 L184.12,365.05 L184.40,364.20 L184.68,363.33 L184.96,362.45 L185.24,361.56 L185.52,360.66 L185.80,359.75 L186.09,358.82 L186.37,357.88 L186.66,356.94 L186.94,355.98 L187.23,355.02 L187.52,354.05 L187.81,353.06 L188.10,352.07 L188.39,351.08 L188.69,350.07 L188.98,349.06 L189.27,348.04 L189.57,347.01 L189.87,345.98 L190.17,344.94 L190.47,343.90 L190.77,342.85 L191.07,341.79 L191.37,340.73 L191.68,339.67 L191.98,338.60 L192.29,337.53 L192.59,336.46 L192.90,335.38 L193.21,334.29 L193.52,333.21 L193.83,332.12 L194.15,331.03 L194.46,329.94 L194.77,328.84 L195.09,327.75 L195.41,326.65 L195.73,325.55 L196.05,324.45 L196.37,323.34 L196.69,322.24 L197.01,321.14 L197.34,320.03 L197.66,318.93 L197.99,317.82 L198.32,316.71 L198.64,315.61 L198.97,314.50 L199.31,313.40 L199.64,312.29 L199.97,311.19 L200.31,310.08 L200.64,308.98 L200.98,307.88 L201.32,306.78 L201.66,305.68 L202.00,304.58 L202.34,303.48 L202.69,302.38 L203.03,301.29 L203.38,300.20 L203.72,299.11 L204.07,298.02 L204.42,296.93 L204.77,295.85 L205.12,294.76 L205.48,293.68 L205.83,292.60 L206.19,291.53 L206.55,290.46 L206.90,289.39 L207.26,288.32 L207.63,287.25 L207.99,286.19 L208.35,285.13 L208.72,284.07 L209.08,283.02 L209.45,281.97 L209.82,280.92 L210.19,279.88 L210.56,278.84 L210.94,277.80 L211.31,276.77 L211.69,275.73 L212.06,274.71 L212.44,273.68 L212.82,272.66 L213.20,271.65 L213.59,270.63 L213.97,269.62 L214.36,268.62 L214.74,267.61 L215.13,266.61 L215.52,265.62 L215.91,264.63 L216.31,263.64 L216.70,262.66 L217.09,261.68 L217.49,260.70 L217.89,259.73 L218.29,258.76 L218.69,257.80 L219.09,256.84 L219.50,255.88 L219.90,254.93 L220.31,253.98 L220.72,253.04 L221.13,252.10 L221.54,251.16 L221.95,250.23 L222.37,249.30 L222.78,248.38 L223.20,247.46 L223.62,246.55 L224.04,245.64 L224.46,244.73 L224.88,243.83 L225.31,242.93 L225.74,242.04 L226.16,241.15 L226.59,240.26 L227.02,239.38 L227.46,238.50 L227.89,237.63 L228.33,236.76 L228.76,235.90 L229.20,235.04 L229.64,234.19 L230.09,233.33 L230.53,232.49 L230.98,231.65 L231.42,230.81 L231.87,229.97 L232.32,229.14 L232.77,228.32 L233.23,227.50 L233.68,226.68 L234.14,225.87 L234.60,225.06 L235.06,224.26 L235.52,223.46 L235.98,222.66 L236.45,221.87 L236.91,221.09 L237.38,220.30 L237.85,219.53 L238.32,218.75 L238.80,217.98 L239.27,217.22 L239.75,216.46 L240.23,215.70 L240.71,214.95 L241.19,214.20 L241.68,213.46 L242.16,212.72 L242.65,211.98 L243.14,211.25 L243.63,210.52 L244.12,209.80 L244.62,209.08 L245.11,208.37 L245.61,207.66 L246.11,206.95 L246.61,206.25 L247.12,205.55 L247.62,204.86 L248.13,204.17 L248.64,203.48 L249.15,202.80 L249.66,202.12 L250.17,201.45 L250.69,200.78 L251.21,200.12 L251.73,199.45 L252.25,198.80 L252.78,198.15 L253.30,197.50 L253.83,196.85 L254.36,196.21 L254.89,195.57 L255.42,194.94 L255.96,194.31 L256.50,193.69 L257.04,193.07 L257.58,192.45 L258.12,191.84 L258.66,191.23 L259.21,190.62 L259.76,190.02 L260.31,189.43 L260.86,188.83 L261.42,188.24 L261.98,187.66 L262.54,187.08 L263.10,186.50 L263.66,185.92 L264.23,185.35 L264.79,184.79 L265.36,184.23 L265.93,183.67 L266.51,183.11 L267.08,182.56 L267.66,182.01 L268.24,181.47 L268.82,180.93 L269.40,180.40 L269.99,179.86 L270.58,179.34 L271.17,178.81 L271.76,178.29 L272.35,177.77 L272.95,177.26 L273.55,176.75 L274.15,176.24 L274.75,175.74 L275.36,175.24 L275.97,174.75 L276.58,174.25 L277.19,173.77 L277.80,173.28 L278.42,172.80 L279.04,172.32 L279.66,171.85 L280.28,171.38 L280.91,170.91 L281.53,170.45 L282.16,169.99 L282.79,169.54 L283.43,169.08 L284.07,168.63 L284.70,168.19 L285.35,167.75 L285.99,167.31 L286.64,166.87 L287.28,166.44 L287.93,166.01 L288.59,165.59 L289.24,165.17 L289.90,164.75 L290.56,164.34 L291.22,163.93 L291.89,163.52 L292.55,163.12 L293.22,162.71 L293.90,162.32 L294.57,161.92 L295.25,161.53 L295.93,161.15 L296.61,160.76 L297.29,160.38 L297.98,160.01 L298.67,159.63 L299.36,159.26 L300.05,158.89 L300.75,158.53 L301.45,158.17 L302.15,157.81 L302.86,157.46 L303.56,157.11 L304.27,156.76 L304.98,156.42 L305.70,156.08 L306.42,155.74 L307.13,155.40 L307.86,155.07 L308.58,154.74 L309.31,154.42 L310.04,154.10 L310.77,153.78 L311.51,153.47 L312.25,153.15 L312.99,152.84 L313.73,152.54 L314.48,152.24 L315.22,151.94 L315.98,151.64 L316.73,151.35 L317.49,151.06 L318.25,150.77 L319.01,150.49 L319.77,150.21 L320.54,149.93 L321.31,149.66 L322.09,149.39 L322.86,149.12 L323.64,148.85 L324.42,148.59 L325.21,148.33 L326.00,148.08 L326.79,147.82 L327.58,147.57 L328.38,147.33 L329.18,147.08 L329.98,146.84 L330.78,146.61 L331.59,146.37 L332.40,146.14 L333.21,145.91 L334.03,145.69 L334.85,145.47 L335.67,145.25 L336.50,145.03 L337.33,144.82 L338.16,144.61 L338.99,144.40 L339.83,144.20 L340.67,143.99 L341.51,143.80 L342.36,143.60 L343.21,143.41 L344.06,143.22 L344.92,143.03 L345.78,142.85 L346.64,142.67 L347.50,142.49 L348.37,142.32 L349.24,142.15 L350.12,141.98 L351.00,141.81 L351.88,141.65 L352.76,141.49 L353.65,141.33 L354.54,141.18 L355.43,141.03 L356.33,140.88 L357.23,140.74 L358.13,140.59 L359.04,140.45 L359.95,140.32 L360.86,140.18 L361.78,140.05 L362.70,139.93 L363.62,139.80 L364.55,139.68 L365.48,139.56 L366.41,139.44 L367.35,139.33 L368.29,139.22 L369.23,139.11 L370.18,139.01 L371.13,138.91 L372.08,138.81 L373.04,138.71 L374.00,138.62 L374.96,138.53 L375.93,138.44 L376.90,138.36 L377.88,138.27 L378.85,138.19 L379.84,138.12 L380.82,138.05 L381.81,137.98 L382.80,137.91 L383.80,137.84 L384.80,137.78 L385.80,137.72 L386.81,137.67 L387.82,137.61 L388.83,137.56 L389.85,137.52 L390.87,137.47 L391.89,137.43 L392.92,137.39 L393.95,137.35 L394.99,137.32 L396.03,137.29 L397.07,137.26 L398.12,137.24 L399.17,137.22 L400.23,137.20 L401.29,137.18 L402.35,137.17 L403.42,137.16 L404.49,137.15 L405.56,137.14 L406.64,137.14 L407.72,137.14 L408.81,137.14 L409.90,137.15 L410.99,137.16 L412.09,137.17 L413.19,137.19 L414.29,137.20 L415.40,137.22 L416.52,137.25 L417.64,137.27 L418.76,137.30 L419.88,137.33 L421.01,137.37 L422.15,137.41 L423.28,137.45 L424.43,137.49 L425.57,137.53 L426.72,137.58 L427.88,137.63 L429.04,137.69 L430.20,137.75 L431.37,137.81 L432.54,137.87 L433.71,137.93 L434.89,138.00 L436.08,138.07 L437.27,138.15 L438.46,138.22 L439.66,138.30 L440.86,138.39 L442.06,138.47 L443.27,138.56 L444.49,138.65 L445.71,138.75 L446.93,138.84 L448.16,138.94 L449.39,139.04 L450.62,139.15 L451.87,139.26 L453.11,139.37 L454.36,139.48 L455.62,139.60 L456.87,139.72 L458.14,139.84 L459.41,139.97 L460.68,140.09 L461.96,140.22 L463.24,140.36 L464.52,140.50 L465.82,140.63 L467.11,140.78 L468.41,140.92 L469.72,141.07 L471.03,141.22 L472.34,141.37 L473.66,141.53 L474.99,141.69 L476.31,141.85 L477.65,142.02 L478.99,142.19 L480.33,142.36 L481.68,142.53 L483.03,142.71 L484.39,142.89 L485.75,143.07 L487.12,143.26 L488.49,143.45 L489.87,143.64 L491.25,143.83 L492.64,144.03 L494.04,144.23 L495.43,144.43 L496.84,144.64 L498.24,144.85 L499.66,145.06 L501.08,145.27 L502.50,145.49 L503.93,145.71 L505.36,145.93 L506.80,146.16 L508.24,146.39 L509.69,146.62 L511.15,146.86 L512.61,147.10 L514.07,147.34 L515.54,147.58 L517.02,147.83 L518.50,148.08 L519.98,148.33 L521.48,148.59 L522.97,148.85 L524.48,149.11 L525.98,149.37 L527.50,149.64 L529.02,149.91 L530.54,150.18 L532.07,150.46 L533.61,150.74 L535.15,151.02 L536.69,151.31 L538.24,151.60 L539.80,151.89 L541.37,152.19 L542.93,152.48 L544.51,152.78 L546.09,153.09 L547.68,153.40 L549.27,153.71 L550.86,154.02 L552.47,154.33 L554.08,154.65 L555.69,154.98 L557.31,155.30 L558.94,155.63 L560.57,155.96 L562.21,156.30 L563.85,156.63 L565.50,156.97 L567.16,157.32 L568.82,157.66 L570.49,158.01 L572.17,158.37 L573.85,158.72 L575.53,159.08 L577.22,159.45 L578.92,159.81 L580.63,160.18 L582.34,160.55 L584.06,160.93 L585.78,161.30 L587.51,161.69 L589.24,162.07 L590.99,162.46 L592.73,162.85 L594.49,163.24 L596.25,163.64 L598.02,164.04 L599.79,164.44 L601.57,164.85 L603.36,165.26 L605.15,165.67 L606.95,166.09 L608.76,166.51 L610.57,166.93 L612.39,167.36 L614.21,167.79 L616.05,168.22 L617.89,168.66 L619.73,169.09 L621.58,169.54 L623.44,169.98 L625.31,170.43 L627.18,170.88 L629.06,171.34 L630.94,171.80 L632.84,172.26 L634.74,172.72 L636.64,173.19 L638.56,173.66 L640.48,174.14 L642.40,174.62 L644.34,175.10 L646.28,175.58 L648.23,176.07 L650.18,176.56 L652.15,177.06 L654.11,177.56 L656.09,178.06 L658.08,178.57 L660.07,179.07 L662.06,179.59 L664.07,180.10 L666.08,180.62 L668.10,181.14 L670.13,181.67 L672.16,182.20 L674.20,182.73 L676.25,183.27 L678.31,183.81 L680.37,184.35 L682.45,184.90 L684.52,185.45 L686.61,186.00 L688.70,186.56 L690.81,187.12 L692.92,187.68 L695.03,188.25 L697.16,188.82 L699.29,189.39 L701.43,189.97 L703.58,190.55 L705.73,191.14 L707.89,191.73 L710.07,192.32 L712.24,192.92 L714.43,193.51 L716.63,194.12 L718.83,194.72 L721.04,195.33 L723.26,195.95 L725.48,196.57 L727.72,197.19 L729.96,197.81 L731.21,198.16" fill="none" stroke="#ff00ff" stroke-width="2.6" stroke-linejoin="round" stroke-linecap="butt"/><rect x="94.55" y="0.75" width="648.45" height="400.85" fill="none" stroke="#000" stroke-width="2.0"/><path d="M107.32,401.6 v-7.30 M107.32,0.75 v7.30 M138.45,401.6 v-4.50 M138.45,0.75 v4.50 M169.58,401.6 v-4.50 M169.58,0.75 v4.50 M200.72,401.6 v-4.50 M200.72,0.75 v4.50 M231.85,401.6 v-7.30 M231.85,0.75 v7.30 M262.98,401.6 v-4.50 M262.98,0.75 v4.50 M294.11,401.6 v-4.50 M294.11,0.75 v4.50 M325.24,401.6 v-4.50 M325.24,0.75 v4.50 M356.38,401.6 v-7.30 M356.38,0.75 v7.30 M387.51,401.6 v-4.50 M387.51,0.75 v4.50 M418.64,401.6 v-4.50 M418.64,0.75 v4.50 M449.77,401.6 v-4.50 M449.77,0.75 v4.50 M480.90,401.6 v-7.30 M480.90,0.75 v7.30 M512.04,401.6 v-4.50 M512.04,0.75 v4.50 M543.17,401.6 v-4.50 M543.17,0.75 v4.50 M574.30,401.6 v-4.50 M574.30,0.75 v4.50 M605.43,401.6 v-7.30 M605.43,0.75 v7.30 M636.56,401.6 v-4.50 M636.56,0.75 v4.50 M667.70,401.6 v-4.50 M667.70,0.75 v4.50 M698.83,401.6 v-4.50 M698.83,0.75 v4.50 M729.96,401.6 v-7.30 M729.96,0.75 v7.30 M94.55,398.04 h4.50 M743.0,398.04 h-4.50 M94.55,383.75 h4.50 M743.0,383.75 h-4.50 M94.55,369.46 h7.30 M743.0,369.46 h-7.30 M94.55,355.17 h4.50 M743.0,355.17 h-4.50 M94.55,340.88 h4.50 M743.0,340.88 h-4.50 M94.55,326.58 h4.50 M743.0,326.58 h-4.50 M94.55,312.29 h7.30 M743.0,312.29 h-7.30 M94.55,298.00 h4.50 M743.0,298.00 h-4.50 M94.55,283.71 h4.50 M743.0,283.71 h-4.50 M94.55,269.42 h4.50 M743.0,269.42 h-4.50 M94.55,255.13 h7.30 M743.0,255.13 h-7.30 M94.55,240.83 h4.50 M743.0,240.83 h-4.50 M94.55,226.54 h4.50 M743.0,226.54 h-4.50 M94.55,212.25 h4.50 M743.0,212.25 h-4.50 M94.55,197.96 h7.30 M743.0,197.96 h-7.30 M94.55,183.67 h4.50 M743.0,183.67 h-4.50 M94.55,169.38 h4.50 M743.0,169.38 h-4.50 M94.55,155.09 h4.50 M743.0,155.09 h-4.50 M94.55,140.79 h7.30 M743.0,140.79 h-7.30 M94.55,126.50 h4.50 M743.0,126.50 h-4.50 M94.55,112.21 h4.50 M743.0,112.21 h-4.50 M94.55,97.92 h4.50 M743.0,97.92 h-4.50 M94.55,83.63 h7.30 M743.0,83.63 h-7.30 M94.55,69.34 h4.50 M743.0,69.34 h-4.50 M94.55,55.05 h4.50 M743.0,55.05 h-4.50 M94.55,40.75 h4.50 M743.0,40.75 h-4.50 M94.55,26.46 h7.30 M743.0,26.46 h-7.30 M94.55,12.17 h4.50 M743.0,12.17 h-4.50" stroke="#000" stroke-width="1.8" fill="none"/><g font-family="Liberation Sans, sans-serif" font-weight="bold" font-size="100.0" fill="#000" mask="url(#tm)" text-rendering="geometricPrecision"><text transform="matrix(0.2509,0.0004,0,0.2205,100.36,424.96)" stroke="#000" stroke-width="3.614" stroke-linejoin="round">0</text><text transform="matrix(0.2167,0.0004,0,0.2192,225.80,424.88)" stroke="#000" stroke-width="3.899" stroke-linejoin="round">2</text><text transform="matrix(0.2247,0.0004,0,0.2184,350.01,424.88)" stroke="#000" stroke-width="3.837" stroke-linejoin="round">4</text><text transform="matrix(0.2380,0.0004,0,0.2202,474.37,424.96)" stroke="#000" stroke-width="3.713" stroke-linejoin="round">6</text><text transform="matrix(0.2299,0.0004,0,0.2205,599.02,424.96)" stroke="#000" stroke-width="3.775" stroke-linejoin="round">8</text><text transform="matrix(0.2171,0.0004,0,0.2184,716.60,424.88)" stroke="#000" stroke-width="3.903" stroke-linejoin="round">1</text><text transform="matrix(0.2509,0.0004,0,0.2205,730.41,424.96)" stroke="#000" stroke-width="3.614" stroke-linejoin="round">0</text><text transform="matrix(0.1865,0.0004,0,0.1783,38.73,377.34)" stroke="#000" stroke-width="4.662" stroke-linejoin="round">−</text><text transform="matrix(0.2509,0.0004,0,0.2205,53.13,376.12)" stroke="#000" stroke-width="3.614" stroke-linejoin="round">0</text><text transform="matrix(0.2051,0.0004,0,0.2132,68.70,376.03)" stroke="#000" stroke-width="4.065" stroke-linejoin="round">.</text><text transform="matrix(0.2380,0.0004,0,0.2202,76.46,376.12)" stroke="#000" stroke-width="3.713" stroke-linejoin="round">6</text><text transform="matrix(0.1865,0.0004,0,0.1783,38.73,320.17)" stroke="#000" stroke-width="4.662" stroke-linejoin="round">−</text><text transform="matrix(0.2509,0.0004,0,0.2205,53.13,318.95)" stroke="#000" stroke-width="3.614" stroke-linejoin="round">0</text><text transform="matrix(0.2051,0.0004,0,0.2132,68.70,318.87)" stroke="#000" stroke-width="4.065" stroke-linejoin="round">.</text><text transform="matrix(0.2247,0.0004,0,0.2184,76.63,318.87)" stroke="#000" stroke-width="3.837" stroke-linejoin="round">4</text><text transform="matrix(0.1865,0.0004,0,0.1783,38.73,263.01)" stroke="#000" stroke-width="4.662" stroke-linejoin="round">−</text><text transform="matrix(0.2509,0.0004,0,0.2205,53.13,261.79)" stroke="#000" stroke-width="3.614" stroke-linejoin="round">0</text><text transform="matrix(0.2051,0.0004,0,0.2132,68.70,261.70)" stroke="#000" stroke-width="4.065" stroke-linejoin="round">.</text><text transform="matrix(0.2167,0.0004,0,0.2192,76.95,261.70)" stroke="#000" stroke-width="3.899" stroke-linejoin="round">2</text><text transform="matrix(0.2509,0.0004,0,0.2205,53.13,204.62)" stroke="#000" stroke-width="3.614" stroke-linejoin="round">0</text><text transform="matrix(0.2051,0.0004,0,0.2132,68.70,204.53)" stroke="#000" stroke-width="4.065" stroke-linejoin="round">.</text><text transform="matrix(0.2509,0.0004,0,0.2205,76.04,204.62)" stroke="#000" stroke-width="3.614" stroke-linejoin="round">0</text><text transform="matrix(0.2509,0.0004,0,0.2205,53.13,147.46)" stroke="#000" stroke-width="3.614" stroke-linejoin="round">0</text><text transform="matrix(0.2051,0.0004,0,0.2132,68.70,147.37)" stroke="#000" stroke-width="4.065" stroke-linejoin="round">.</text><text transform="matrix(0.2167,0.0004,0,0.2192,76.95,147.37)" stroke="#000" stroke-width="3.899" stroke-linejoin="round">2</text><text transform="matrix(0.2509,0.0004,0,0.2205,53.13,90.29)" stroke="#000" stroke-width="3.614" stroke-linejoin="round">0</text><text transform="matrix(0.2051,0.0004,0,0.2132,68.70,90.20)" stroke="#000" stroke-width="4.065" stroke-linejoin="round">.</text><text transform="matrix(0.2247,0.0004,0,0.2184,76.63,90.20)" stroke="#000" stroke-width="3.837" stroke-linejoin="round">4</text><text transform="matrix(0.2509,0.0004,0,0.2205,53.13,33.12)" stroke="#000" stroke-width="3.614" stroke-linejoin="round">0</text><text transform="matrix(0.2051,0.0004,0,0.2132,68.70,33.04)" stroke="#000" stroke-width="4.065" stroke-linejoin="round">.</text><text transform="matrix(0.2380,0.0004,0,0.2202,76.46,33.12)" stroke="#000" stroke-width="3.713" stroke-linejoin="round">6</text><text transform="matrix(0.2533,0.0004,0,0.2150,413.94,459.68)" stroke="#000" stroke-width="3.643" stroke-linejoin="round">r</text><text transform="matrix(0.2098,0.0004,0,0.2077,397.72,272.27)" stroke="#000" stroke-width="4.071" stroke-linejoin="round">c</text><text transform="matrix(0.2044,0.0004,0,0.1693,410.65,272.53)" stroke="#000" stroke-width="5.106" stroke-linejoin="round">=</text><text transform="matrix(0.2509,0.0004,0,0.2205,423.70,272.26)" stroke="#000" stroke-width="3.614" stroke-linejoin="round">0</text><text transform="matrix(0.2051,0.0004,0,0.2132,439.28,272.18)" stroke="#000" stroke-width="4.065" stroke-linejoin="round">.</text><text transform="matrix(0.2509,0.0004,0,0.2205,446.62,272.26)" stroke="#000" stroke-width="3.614" stroke-linejoin="round">0</text><text transform="matrix(0.2167,0.0004,0,0.2192,462.34,272.18)" stroke="#000" stroke-width="3.899" stroke-linejoin="round">2</text><text transform="matrix(0.2098,0.0004,0,0.2077,397.72,308.60)" stroke="#000" stroke-width="4.071" stroke-linejoin="round">c</text><text transform="matrix(0.2044,0.0004,0,0.1693,410.65,308.86)" stroke="#000" stroke-width="5.106" stroke-linejoin="round">=</text><text transform="matrix(0.2509,0.0004,0,0.2205,423.70,308.59)" stroke="#000" stroke-width="3.614" stroke-linejoin="round">0</text><text transform="matrix(0.2051,0.0004,0,0.2132,439.28,308.50)" stroke="#000" stroke-width="4.065" stroke-linejoin="round">.</text><text transform="matrix(0.2509,0.0004,0,0.2205,446.62,308.59)" stroke="#000" stroke-width="3.614" stroke-linejoin="round">0</text><text transform="matrix(0.2247,0.0004,0,0.2184,462.03,308.50)" stroke="#000" stroke-width="3.837" stroke-linejoin="round">4</text><text transform="matrix(0.2098,0.0004,0,0.2077,397.72,344.93)" stroke="#000" stroke-width="4.071" stroke-linejoin="round">c</text><text transform="matrix(0.2044,0.0004,0,0.1693,410.65,345.19)" stroke="#000" stroke-width="5.106" stroke-linejoin="round">=</text><text transform="matrix(0.2509,0.0004,0,0.2205,423.70,344.92)" stroke="#000" stroke-width="3.614" stroke-linejoin="round">0</text><text transform="matrix(0.2051,0.0004,0,0.2132,439.28,344.83)" stroke="#000" stroke-width="4.065" stroke-linejoin="round">.</text><text transform="matrix(0.2509,0.0004,0,0.2205,446.62,344.92)" stroke="#000" stroke-width="3.614" stroke-linejoin="round">0</text><text transform="matrix(0.2380,0.0004,0,0.2202,461.86,344.92)" stroke="#000" stroke-width="3.713" stroke-linejoin="round">6</text><text transform="matrix(0.2098,0.0004,0,0.2077,397.72,381.26)" stroke="#000" stroke-width="4.071" stroke-linejoin="round">c</text><text transform="matrix(0.2044,0.0004,0,0.1693,410.65,381.52)" stroke="#000" stroke-width="5.106" stroke-linejoin="round">=</text><text transform="matrix(0.2509,0.0004,0,0.2205,423.70,381.25)" stroke="#000" stroke-width="3.614" stroke-linejoin="round">0</text><text transform="matrix(0.2051,0.0004,0,0.2132,439.28,381.17)" stroke="#000" stroke-width="4.065" stroke-linejoin="round">.</text><text transform="matrix(0.2509,0.0004,0,0.2205,446.62,381.25)" stroke="#000" stroke-width="3.614" stroke-linejoin="round">0</text><text transform="matrix(0.2299,0.0004,0,0.2205,461.98,381.25)" stroke="#000" stroke-width="3.775" stroke-linejoin="round">8</text></g><path d="M361,266.50 H385.4" stroke="#ff0000" stroke-width="2.7"/><path d="M361,302.83 H385.4" stroke="#0000ff" stroke-width="2.7"/><path d="M361,339.16 H385.4" stroke="#800080" stroke-width="2.7"/><path d="M361,375.49 H385.4" stroke="#ff00ff" stroke-width="2.7"/><g font-family="Liberation Serif, serif" font-style="italic" font-size="100.0" fill="#000" mask="url(#tm)"><text transform="matrix(0,-0.2092,0.2164,0,19.48,221.79)" stroke="#000" stroke-width="1.175">V</text><text transform="matrix(0,-0.1538,0.1497,0,25.25,209.88)" stroke="#000" stroke-width="1.647">e</text><text transform="matrix(0,-0.1885,0.1494,0,25.82,200.01)" stroke="#000" stroke-width="1.490">f</text><text transform="matrix(0,-0.2016,0.1494,0,25.82,187.42)" stroke="#000" stroke-width="1.441">f</text></g></svg></body></html>
